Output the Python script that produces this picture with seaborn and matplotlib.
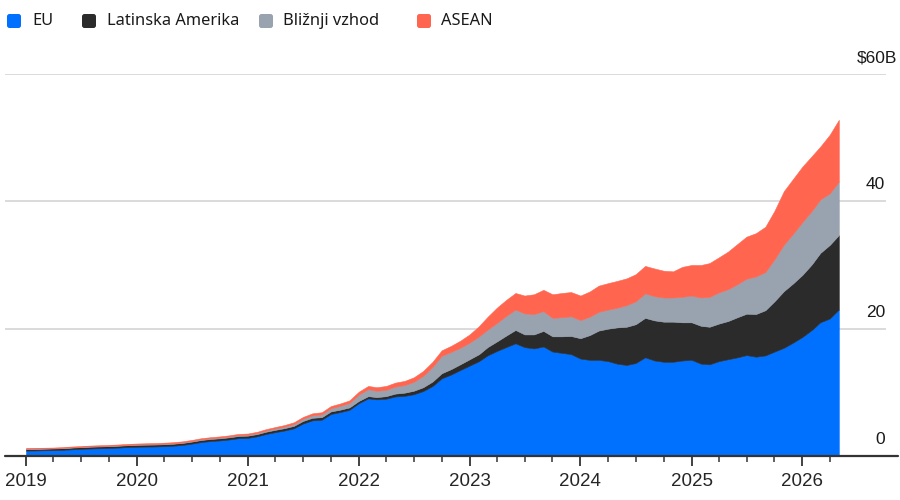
import matplotlib
matplotlib.use("Agg")
import matplotlib.pyplot as plt
import matplotlib.dates as mdates
from matplotlib.patches import FancyBboxPatch
from matplotlib.transforms import IdentityTransform
import numpy as np
import pandas as pd
import seaborn as sns

# monthly values, $B, Jan 2019 - May 2026
months = pd.date_range("2019-01-01", "2026-05-01", freq="MS")

eu = [0.85, 0.87, 0.9, 0.92, 0.97, 1.05, 1.12, 1.18, 1.22, 1.27, 1.32, 1.4,
      1.45, 1.48, 1.5, 1.55, 1.62, 1.75, 1.95, 2.2, 2.35, 2.45, 2.6, 2.8,
      2.85, 3.1, 3.45, 3.75, 4.0, 4.35, 5.1, 5.6, 5.7, 6.6, 6.9, 7.25,
      8.3, 9.05, 8.9, 9.0, 9.35, 9.45, 9.7, 10.2, 11.0, 12.2, 12.8, 13.5,
      14.2, 14.9, 15.8, 16.5, 17.1, 17.7, 17.1, 16.9, 17.2, 16.4, 16.2, 16.0,
      15.3, 15.1, 15.1, 14.9, 14.5, 14.3, 14.6, 15.5, 15.0, 14.8, 14.8, 15.0,
      15.1, 14.5, 14.4, 14.9, 15.2, 15.5, 15.85, 15.6, 15.8, 16.4, 17.0, 17.8,
      18.7, 19.8, 21.0, 21.6, 23.0]

latam = [0.25, 0.25, 0.25, 0.26, 0.26, 0.27, 0.27, 0.28, 0.28, 0.28, 0.29, 0.29,
         0.3, 0.3, 0.3, 0.3, 0.31, 0.31, 0.32, 0.32, 0.33, 0.33, 0.34, 0.34,
         0.35, 0.35, 0.36, 0.36, 0.37, 0.38, 0.4, 0.4, 0.4, 0.4, 0.38, 0.38,
         0.35, 0.35, 0.35, 0.4, 0.45, 0.5, 0.55, 0.6, 0.7, 0.8, 0.85, 0.9,
         1.0, 1.1, 1.3, 1.5, 1.8, 2.1, 2.0, 2.2, 2.45, 2.4, 2.6, 2.85,
         3.2, 3.9, 4.6, 5.1, 5.7, 6.0, 6.1, 6.2, 6.3, 6.3, 6.3, 6.0,
         5.9, 5.95, 5.9, 5.9, 6.0, 6.3, 6.5, 6.7, 7.1, 7.9, 8.9, 9.3,
         9.75, 10.3, 10.9, 11.55, 11.7]

mideast = [0.05, 0.05, 0.05, 0.05, 0.06, 0.06, 0.06, 0.07, 0.07, 0.07, 0.08, 0.08,
           0.08, 0.09, 0.09, 0.1, 0.1, 0.1, 0.11, 0.12, 0.12, 0.13, 0.14, 0.15,
           0.15, 0.17, 0.2, 0.22, 0.25, 0.3, 0.35, 0.4, 0.45, 0.5, 0.6, 0.7,
           1.0, 1.1, 1.0, 1.0, 1.1, 1.2, 1.4, 1.8, 2.3, 2.75, 2.7, 2.6,
           2.6, 2.8, 2.75, 2.9, 3.1, 3.2, 3.3, 3.2, 3.1, 2.9, 3.0, 3.1,
           2.85, 2.9, 2.95, 3.0, 3.1, 3.4, 3.6, 3.85, 3.8, 3.8, 3.8, 4.0,
           4.2, 4.45, 4.7, 4.9, 5.0, 5.2, 5.5, 5.9, 6.0, 6.6, 7.3, 7.8,
           8.3, 8.4, 8.4, 8.1, 8.4]

asean = [0.1, 0.1, 0.1, 0.1, 0.1, 0.11, 0.11, 0.11, 0.12, 0.12, 0.12, 0.13,
         0.13, 0.13, 0.14, 0.14, 0.14, 0.15, 0.15, 0.16, 0.16, 0.17, 0.17, 0.18,
         0.18, 0.19, 0.2, 0.22, 0.24, 0.26, 0.28, 0.3, 0.32, 0.34, 0.37, 0.4,
         0.45, 0.5, 0.55, 0.6, 0.62, 0.65, 0.7, 0.75, 0.8, 0.85, 0.95, 1.1,
         1.3, 1.6, 2.0, 2.4, 2.5, 2.6, 2.8, 3.1, 3.35, 3.7, 3.8, 3.8,
         3.85, 3.95, 4.1, 4.15, 4.2, 4.2, 4.25, 4.3, 4.35, 4.2, 4.1, 4.7,
         4.8, 5.1, 5.3, 5.5, 5.9, 6.3, 6.6, 6.8, 7.1, 7.6, 8.4, 8.6,
         8.7, 8.6, 8.3, 9.2, 9.7]

series_names = ["EU", "Latinska Amerika", "Bližnji vzhod", "ASEAN"]
series_colors = ["#0070ff", "#2b2b2b", "#99a3af", "#ff654f"]
ytick_vals = [0, 20, 40, 60]
ytick_labels = ["0", "20", "40", "$60B"]

df = pd.DataFrame({"EU": eu, "Latinska Amerika": latam,
                   "Bližnji vzhod": mideast, "ASEAN": asean}, index=months)

sns.set_theme(style="white")
plt.rcParams['font.family'] = ['Liberation Sans', 'DejaVu Sans']

fig = plt.figure(figsize=(9, 5), dpi=100)
ax = fig.add_axes([5/900, 44/500, 881/900, 382/500])

x = mdates.date2num(df.index.to_pydatetime())
polys = ax.stackplot(x, df[series_names].T.values, colors=series_colors, linewidth=0)
for p, c in zip(polys, series_colors):
    p.set_edgecolor(c)
    p.set_linewidth(0.4)

# x range: 2019-01-01 sits 21 px from the left edge, 110.9 px per year
px_per_day = 110.9 / 365.25
x0 = mdates.date2num(pd.Timestamp("2019-01-01").to_pydatetime())
ax.set_xlim(x0 - 21 / px_per_day, x0 + 860 / px_per_day)
ax.set_ylim(0, 60)

ax.xaxis.set_major_locator(mdates.YearLocator())
ax.xaxis.set_major_formatter(mdates.DateFormatter("%Y"))
# quarter ticks only while there is data
quarter_ticks = [mdates.date2num(d.to_pydatetime()) for d in months if d.month in (4, 7, 10)]
ax.set_xticks(quarter_ticks, minor=True)
ax.tick_params(axis='x', which='major', direction='out', length=7, width=1.3,
               color='#333333', labelsize=13.5, pad=5, bottom=True)
ax.tick_params(axis='x', which='minor', direction='out', length=4, width=1.1,
               color='#333333', bottom=True)
ax.tick_params(axis='y', length=0, labelleft=False, labelright=False)

ax.set_yticks(ytick_vals)
ax.grid(axis='y', color='#d4d4d4', linewidth=1.2)
ax.grid(axis='x', visible=False)
for s in ax.spines.values():
    s.set_visible(False)
ax.axhline(0, xmin=0, xmax=1.014, color='#333333', linewidth=1.6, clip_on=False, zorder=5)

for v, lab in zip(ytick_vals, ytick_labels):
    dx = 12 if lab.startswith('$') else 0
    ax.annotate(lab, xy=(1.0, v), xycoords=('axes fraction', 'data'),
                xytext=(dx - 1, 9), textcoords='offset pixels',
                ha='right', va='bottom', fontsize=12.5, color='#1a1a1a')

ax.set_xlabel("")
ax.set_ylabel("")

# legend row at the top
legend_x = [(7, 32), (82, 107), (259, 283), (417, 441)]
for (sx, tx), name, c in zip(legend_x, series_names, series_colors):
    fig.add_artist(FancyBboxPatch((sx, 500 - 28), 14, 14,
                                  boxstyle="round,pad=0,rounding_size=2.5",
                                  transform=IdentityTransform(),
                                  facecolor=c, edgecolor='none'))
    fig.text(tx / 900, (500 - 21) / 500, name, ha='left', va='center',
             fontsize=11.8, family=['Noto Sans', 'DejaVu Sans'], color='#1a1a1a')

fig.savefig("out.png", dpi=100)
